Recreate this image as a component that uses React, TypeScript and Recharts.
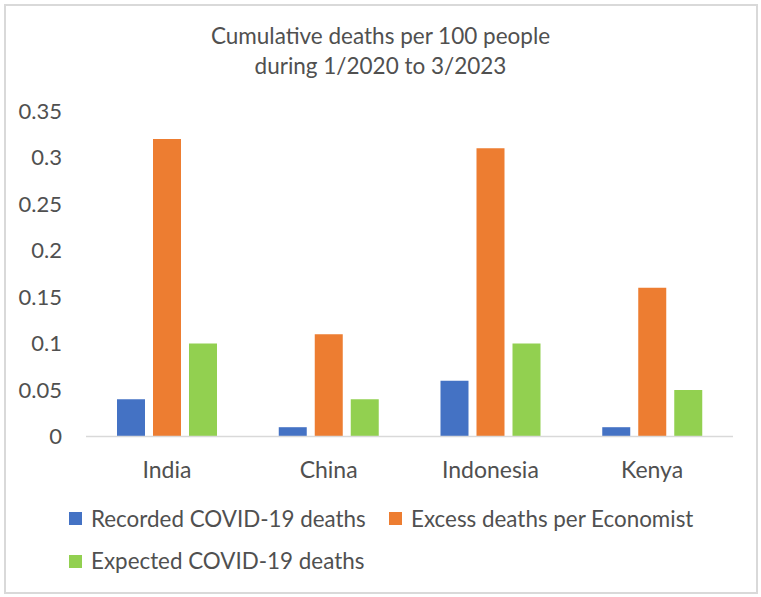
import React from "react";
import { BarChart, Bar, XAxis, YAxis } from "recharts";

const countries = ["India", "China", "Indonesia", "Kenya"];
const recorded = [0.04, 0.01, 0.06, 0.01];
const excess = [0.32, 0.11, 0.31, 0.16];
const expected = [0.1, 0.04, 0.1, 0.05];
const yTicks = [0, 0.05, 0.1, 0.15, 0.2, 0.25, 0.3, 0.35];
const titleLines = ["Cumulative deaths per 100 people", "during 1/2020 to 3/2023"];

const series = [
  { key: "recorded", name: "Recorded COVID-19 deaths", color: "#4472C4" },
  { key: "excess", name: "Excess deaths per Economist", color: "#ED7D31" },
  { key: "expected", name: "Expected COVID-19 deaths", color: "#92D050" },
];

const data = countries.map((c, i) => ({
  country: c,
  recorded: recorded[i],
  excess: excess[i],
  expected: expected[i],
}));

const FONT = "Lato, 'Open Sans', sans-serif";
const TEXT = "#505050";

const legendPos = [
  { left: 69, top: 507.5 },
  { left: 389, top: 507.5 },
  { left: 69, top: 550 },
];

export default function App() {
  return (
    <div style={{ position: "absolute", left: 0, top: 0, width: 761, height: 597, background: "#fff", fontFamily: FONT }}>
      <div style={{ position: "absolute", left: 4, top: 4, width: 750, height: 586, border: "2px solid #d9d9d9" }} />
      <div style={{ position: "absolute", left: 0, top: 21.3, width: 761, textAlign: "center", fontSize: 22.5, lineHeight: "30px", color: TEXT }}>
        {titleLines.map((t) => (
          <div key={t}>{t}</div>
        ))}
      </div>
      <div style={{ position: "absolute", left: 0, top: 0 }}>
        <BarChart width={761} height={597} data={data} margin={{ top: 111, right: 28, left: 0, bottom: 130.5 }} barSize={28} barGap={8}>
          <XAxis
            dataKey="country"
            height={30}
            tickLine={false}
            tickSize={0}
            tickMargin={25}
            axisLine={{ stroke: "#d9d9d9", strokeWidth: 1.5 }}
            tick={{ fill: TEXT, fontSize: 23, fontFamily: FONT }}
          />
          <YAxis
            width={86}
            domain={[0, 0.35]}
            ticks={yTicks}
            axisLine={false}
            tickLine={false}
            tickSize={0}
            tickMargin={24}
            tickFormatter={(v: number) => String(Number(v.toFixed(2)))}
            tick={{ fill: TEXT, fontSize: 22, fontFamily: FONT }}
          />
          {series.map((s) => (
            <Bar key={s.key} dataKey={s.key} name={s.name} fill={s.color} isAnimationActive={false} />
          ))}
        </BarChart>
      </div>
      {series.map((s, i) => (
        <div
          key={s.key}
          style={{
            position: "absolute",
            left: legendPos[i].left,
            top: legendPos[i].top,
            height: 22,
            display: "flex",
            alignItems: "center",
            fontSize: 22.4,
            lineHeight: "22px",
            color: TEXT,
            whiteSpace: "nowrap",
          }}
        >
          <span style={{ display: "inline-block", width: 13, height: 13, background: s.color, marginRight: 9 }} />
          <span>{s.name}</span>
        </div>
      ))}
    </div>
  );
}
